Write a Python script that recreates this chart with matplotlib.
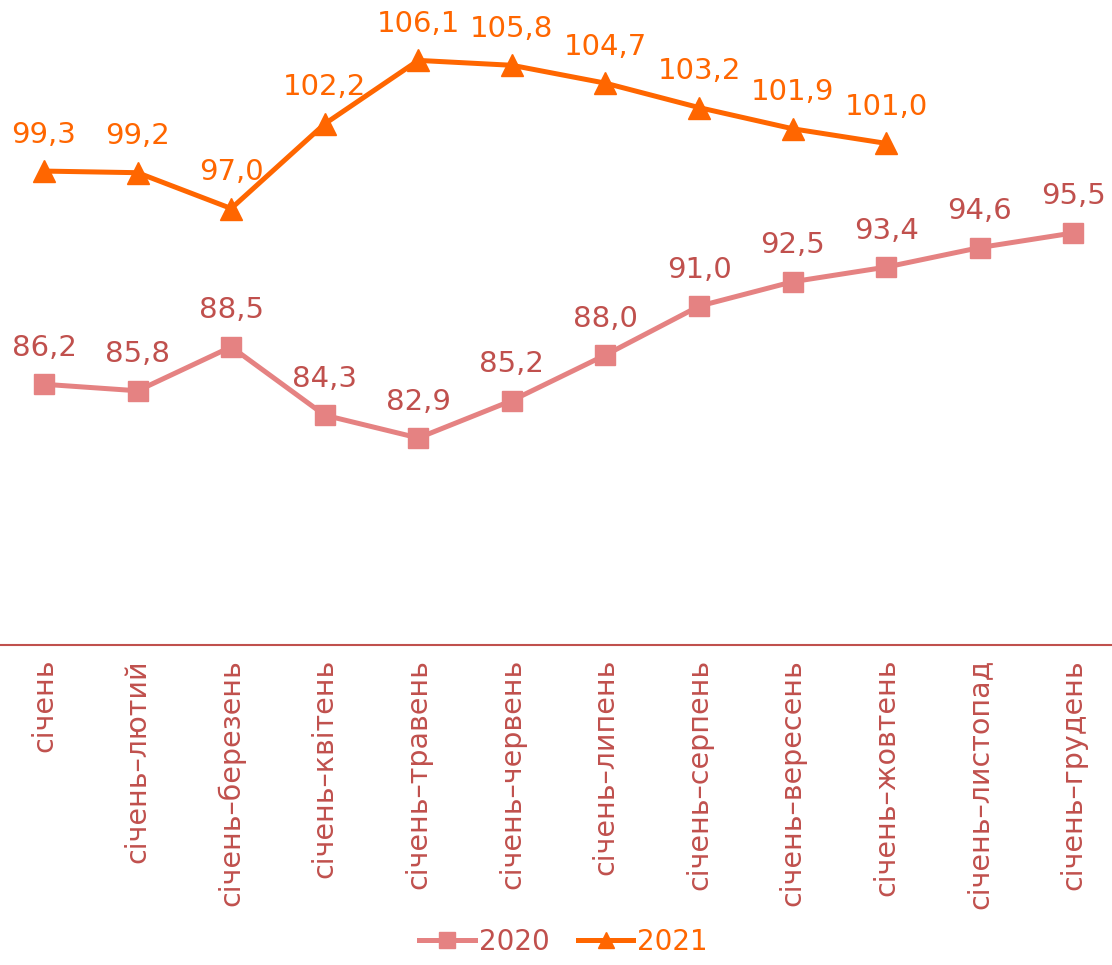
import matplotlib
matplotlib.use("Agg")
import matplotlib.pyplot as plt
from matplotlib.lines import Line2D

categories = ["січень", "січень–лютий", "січень–березень", "січень–квітень",
              "січень–травень", "січень–червень", "січень–липень", "січень–серпень",
              "січень–вересень", "січень–жовтень", "січень–листопад", "січень–грудень"]
values_2020 = [86.2, 85.8, 88.5, 84.3, 82.9, 85.2, 88.0, 91.0, 92.5, 93.4, 94.6, 95.5]
values_2021 = [99.3, 99.2, 97.0, 102.2, 106.1, 105.8, 104.7, 103.2, 101.9, 101.0]

c2020_line = "#E58282"
c2020_text = "#C0504D"
c2021 = "#FF6600"

plt.rcParams['font.family'] = ['DejaVu Sans']

W, H = 1112, 965
fig = plt.figure(figsize=(W / 100, H / 100), dpi=100)
left_px = -2.8
width_px = 1123
bottom_px = 645
height_px = 651
ax = fig.add_axes([left_px / W, (H - bottom_px) / H, width_px / W, height_px / H])
ax.set_xlim(-0.5, 11.5)
ax.set_ylim(70.18, 110.18)

x20 = list(range(len(values_2020)))
x21 = list(range(len(values_2021)))
ax.plot(x20, values_2020, color=c2020_line, lw=3.6, marker='s', ms=15, mec=c2020_line, clip_on=False, zorder=3)
ax.plot(x21, values_2021, color=c2021, lw=3.6, marker='^', ms=16, mec=c2021, clip_on=False, zorder=3)

for x, v in zip(x20, values_2020):
    ax.annotate(f"{v:.1f}".replace('.', ','), (x, v), xytext=(0, 20.5), textcoords='offset points',
                ha='center', va='baseline', fontsize=21, color=c2020_text, annotation_clip=False)
for x, v in zip(x21, values_2021):
    ax.annotate(f"{v:.1f}".replace('.', ','), (x, v), xytext=(0, 20.5), textcoords='offset points',
                ha='center', va='baseline', fontsize=21, color=c2021, annotation_clip=False)

for s in ['top', 'right', 'left']:
    ax.spines[s].set_visible(False)
ax.spines['bottom'].set_color(c2020_text)
ax.spines['bottom'].set_linewidth(1.5)
ax.set_yticks([])
ax.set_xticks(x20)
ax.set_xticklabels(categories, rotation=90, fontsize=20.5, color=c2020_text, va='top')
ax.tick_params(axis='x', length=0, pad=10)

handles = [Line2D([], [], color=c2020_line, lw=3.6, marker='s', ms=12),
           Line2D([], [], color=c2021, lw=3.6, marker='^', ms=12)]
leg = fig.legend(handles, ["2020", "2021"], loc='center', bbox_to_anchor=(0.507, 1 - 942 / H),
                 ncol=2, frameon=False, fontsize=20, handlelength=2.0, handletextpad=0.15,
                 columnspacing=1.0)
for t, c in zip(leg.get_texts(), [c2020_text, c2021]):
    t.set_color(c)

fig.savefig("out.png", dpi=100)
